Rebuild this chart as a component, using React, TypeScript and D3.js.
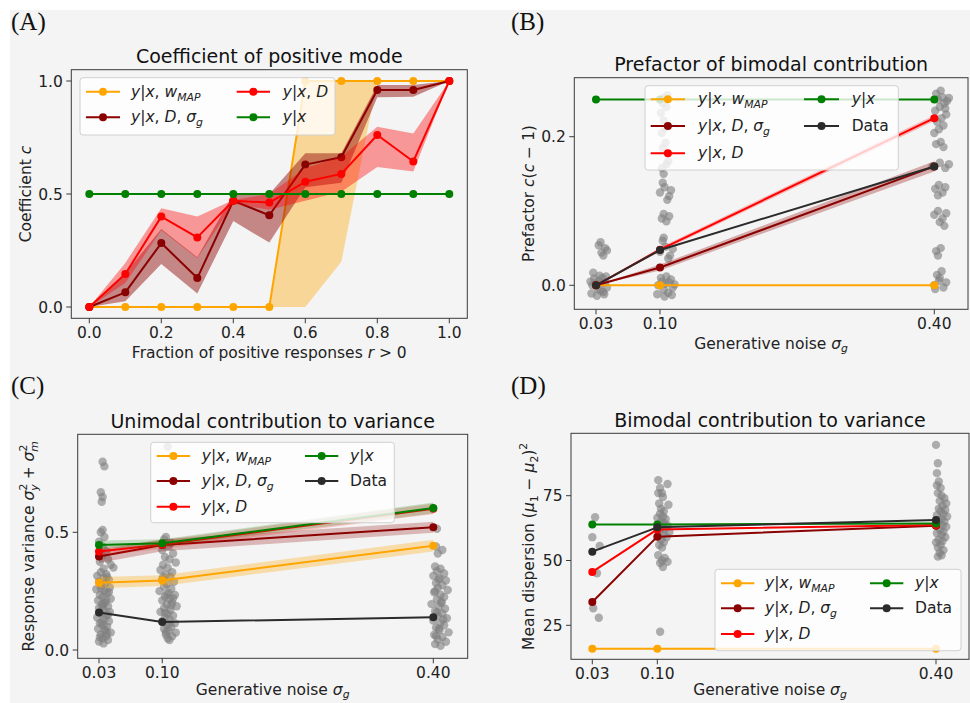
import React from "react";
import * as d3 from "d3";

// ---------------- Data ----------------
// Panel A: coefficient of positive mode vs fraction of positive responses
const fractionX = [0, 0.1, 0.2, 0.3, 0.4, 0.5, 0.6, 0.7, 0.8, 0.9, 1.0];
const aMap = [0, 0, 0, 0, 0, 0, 1, 1, 1, 1, 1];
const aMapLo = [0, 0, 0, 0, 0, 0, 0, 0.2, 1, 1, 1];
const aMapHi = [0, 0, 0, 0, 0, 0, 1, 1, 1, 1, 1];
const aDs = [0, 0.065, 0.283, 0.128, 0.47, 0.406, 0.63, 0.663, 0.96, 0.96, 1];
const aDsLo = [0, 0.025, 0.19, 0.06, 0.38, 0.285, 0.53, 0.55, 0.928, 0.93, 1];
const aDsHi = [0, 0.15, 0.345, 0.22, 0.5, 0.5, 0.68, 0.68, 0.982, 0.982, 1];
const aD = [0, 0.146, 0.4, 0.308, 0.47, 0.462, 0.554, 0.589, 0.761, 0.644, 1];
const aDLo = [0, 0.106, 0.34, 0.216, 0.457, 0.43, 0.47, 0.51, 0.62, 0.6, 1];
const aDHi = [0, 0.195, 0.437, 0.4, 0.474, 0.5, 0.614, 0.665, 0.798, 0.768, 1];
const aYx = [0.5, 0.5, 0.5, 0.5, 0.5, 0.5, 0.5, 0.5, 0.5, 0.5, 0.5];
const aXTicks = [0, 0.2, 0.4, 0.6, 0.8, 1.0];
const aXTickLabels = ["0.0", "0.2", "0.4", "0.6", "0.8", "1.0"];
const aYTicks = [0, 0.5, 1.0];
const aYTickLabels = ["0.0", "0.5", "1.0"];

// Shared x for B, C, D
const sigmas = [0.03, 0.1, 0.4];
const sigmaTickLabels = ["0.03", "0.10", "0.40"];

// Panel B: prefactor c(c-1)
const bMap = [0, 0, 0];
const bDs = [0, 0.024, 0.16];
const bDsLo = [0, 0.02, 0.153];
const bDsHi = [0, 0.028, 0.167];
const bD = [0, 0.048, 0.225];
const bDLo = [0, 0.045, 0.221];
const bDHi = [0, 0.051, 0.229];
const bYx = [0.25, 0.25, 0.25];
const bData = [0, 0.0475, 0.16];
const bYTicks = [0, 0.2];
const bYTickLabels = ["0.0", "0.2"];
// jittered observations: [x offset, value]
const bPts003: [number, number][] = [
  [-0.004, 0.0], [0.002, -0.005], [0.006, 0.003], [-0.002, 0.009], [0.008, -0.009], [0.004, 0.013],
  [-0.005, -0.011], [0.01, 0.004], [0.001, -0.014], [0.007, 0.01], [-0.003, 0.017], [0.012, -0.003],
  [0.003, 0.006], [-0.006, 0.005], [0.009, -0.012], [0.005, -0.007], [0.0, 0.002], [0.011, 0.012],
  [0.006, 0.044], [0.01, 0.05], [0.003, 0.054], [0.008, 0.04], [0.012, 0.047], [0.005, 0.058],
];
const bPts010: [number, number][] = [
  [-0.002, 0.0], [0.004, -0.006], [0.01, 0.004], [0.001, 0.01], [0.014, -0.003], [0.007, 0.012],
  [-0.003, -0.012], [0.012, 0.008], [0.005, -0.015], [0.016, 0.001], [0.002, 0.005], [0.009, -0.01],
  [0.006, 0.002], [0.013, -0.013],
  [0.0, 0.045], [0.006, 0.052], [0.011, 0.04], [0.003, 0.06], [0.009, 0.036], [0.014, 0.049], [0.004, 0.064],
  [0.002, 0.09], [0.007, 0.086], [0.01, 0.093], [0.004, 0.096],
  [0.0, 0.125], [0.005, 0.132], [0.01, 0.12], [0.003, 0.138], [0.008, 0.115], [0.012, 0.128],
  [0.002, 0.158], [0.007, 0.163], [0.004, 0.15], [0.009, 0.167],
  [0.003, 0.185], [0.006, 0.192],
  [0.002, 0.205], [0.006, 0.212], [0.004, 0.222], [0.001, 0.232], [0.007, 0.24], [0.003, 0.245],
  [0.004, 0.252], [0.008, 0.256],
];
const bPts040: [number, number][] = [
  [0.0, 0.0], [0.005, 0.006], [0.01, -0.003], [0.003, 0.014], [0.008, 0.019], [0.013, 0.004], [0.001, -0.005], [0.006, 0.01],
  [0.002, 0.046], [0.007, 0.05], [0.004, 0.04],
  [0.0, 0.095], [0.004, 0.1], [0.009, 0.09], [0.013, 0.097], [0.006, 0.085], [0.011, 0.08],
  [0.001, 0.13], [0.005, 0.135], [0.009, 0.125], [0.004, 0.121], [0.012, 0.132],
  [-0.002, 0.16], [0.006, 0.165], [0.012, 0.158], [0.016, 0.163],
  [0.002, 0.19], [0.007, 0.193], [0.01, 0.186],
  [0.0, 0.205], [0.005, 0.21], [0.01, 0.215], [0.003, 0.22], [0.008, 0.225], [0.013, 0.23], [0.001, 0.235],
  [0.006, 0.24], [0.011, 0.245], [0.004, 0.25], [0.009, 0.253], [0.014, 0.248], [0.002, 0.258], [0.007, 0.262],
  [0.012, 0.238], [0.016, 0.252],
];

// Panel C: unimodal contribution to variance
const cMap = [0.286, 0.295, 0.443];
const cMapLo = [0.262, 0.272, 0.418];
const cMapHi = [0.31, 0.318, 0.468];
const cDs = [0.397, 0.446, 0.521];
const cDsLo = [0.37, 0.42, 0.498];
const cDsHi = [0.425, 0.47, 0.545];
const cD = [0.418, 0.448, 0.6];
const cDLo = [0.4, 0.43, 0.578];
const cDHi = [0.435, 0.466, 0.622];
const cYx = [0.446, 0.453, 0.603];
const cYxLo = [0.43, 0.44, 0.58];
const cYxHi = [0.465, 0.47, 0.627];
const cData = [0.159, 0.119, 0.139];
const cYTicks = [0, 0.5];
const cYTickLabels = ["0.0", "0.5"];
const cPts003: [number, number][] = [
  [0.004, 0.8], [0.006, 0.78], [0.002, 0.67], [0.004, 0.65], [0.003, 0.63], [0.004, 0.51], [0.002, 0.5],
  [0.006, 0.48], [0.0, 0.46], [0.004, 0.44], [0.008, 0.42], [0.003, 0.4], [0.01, 0.385], [0.001, 0.375],
  [0.013, 0.362], [0.016, 0.35], [0.005, 0.345],
  [0.002, 0.33], [0.008, 0.322], [-0.002, 0.315], [0.005, 0.305], [0.011, 0.298], [0.0, 0.29], [0.007, 0.282],
  [0.003, 0.274], [0.012, 0.266], [-0.003, 0.258], [0.006, 0.25], [0.009, 0.242], [0.001, 0.234], [0.004, 0.226],
  [0.013, 0.218], [-0.001, 0.21], [0.007, 0.202], [0.003, 0.194], [0.01, 0.186], [0.0, 0.178], [0.005, 0.17],
  [0.012, 0.162], [0.002, 0.154], [0.008, 0.146], [-0.002, 0.138], [0.006, 0.13], [0.011, 0.122], [0.001, 0.114],
  [0.004, 0.106], [0.009, 0.098], [-0.001, 0.09], [0.006, 0.082], [0.013, 0.074], [0.002, 0.066], [0.008, 0.058],
  [0.004, 0.05], [0.01, 0.042], [0.0, 0.036], [0.005, 0.028],
  [0.009, 0.31], [0.002, 0.262], [0.008, 0.214], [0.004, 0.182], [0.01, 0.15], [0.003, 0.118], [0.007, 0.086],
  [0.001, 0.054], [0.009, 0.07], [0.005, 0.198], [0.011, 0.246],
];
const cPts010: [number, number][] = [
  [0.006, 0.864], [0.004, 0.48], [0.002, 0.47], [0.01, 0.455], [0.007, 0.44], [0.0, 0.425], [0.012, 0.41],
  [0.003, 0.395], [0.008, 0.385], [0.015, 0.372], [0.001, 0.362], [0.006, 0.35], [-0.002, 0.34], [0.011, 0.33],
  [0.004, 0.32], [0.009, 0.31], [0.0, 0.3], [0.013, 0.29], [0.005, 0.28], [0.002, 0.27], [0.01, 0.26],
  [-0.003, 0.25], [0.007, 0.242], [0.014, 0.234], [0.003, 0.226], [0.008, 0.218], [0.0, 0.21], [0.011, 0.202],
  [0.005, 0.194], [0.016, 0.186], [0.002, 0.178], [0.009, 0.17], [-0.002, 0.162], [0.006, 0.154], [0.012, 0.146],
  [0.003, 0.138], [0.008, 0.13], [0.0, 0.122], [0.014, 0.114], [0.005, 0.106], [0.01, 0.098], [0.002, 0.09],
  [0.007, 0.082], [0.015, 0.074], [0.004, 0.066], [0.011, 0.058], [0.006, 0.05], [0.008, 0.042],
  [0.005, 0.236], [0.01, 0.19], [0.003, 0.158], [0.008, 0.112], [0.004, 0.076], [0.012, 0.22], [0.001, 0.31],
];
const cPts040: [number, number][] = [
  [0.004, 0.515], [0.003, 0.44], [0.01, 0.425], [0.005, 0.41], [0.002, 0.355], [0.008, 0.345], [0.004, 0.335],
  [0.012, 0.325], [0.0, 0.315], [0.007, 0.305], [0.014, 0.295], [0.003, 0.285], [0.01, 0.275], [0.005, 0.265],
  [0.016, 0.255], [0.001, 0.245], [0.008, 0.235], [0.012, 0.225], [0.004, 0.215], [0.009, 0.205], [-0.002, 0.195],
  [0.006, 0.185], [0.013, 0.175], [0.002, 0.165], [0.01, 0.155], [0.005, 0.145], [0.015, 0.135], [0.0, 0.125],
  [0.008, 0.115], [0.012, 0.105], [0.003, 0.095], [0.007, 0.085], [0.017, 0.075], [0.001, 0.065], [0.01, 0.055],
  [0.005, 0.045], [0.014, 0.035], [0.002, 0.025], [0.008, 0.018],
  [0.006, 0.3], [0.002, 0.25], [0.009, 0.2], [0.004, 0.16], [0.011, 0.13], [0.006, 0.09], [0.003, 0.06],
];

// Panel D: bimodal contribution to variance
const dMap = [16.0, 16.0, 16.0];
const dDs = [34.0, 59.2, 63.4];
const dD = [45.6, 62.0, 63.7];
const dYx = [63.9, 63.9, 64.3];
const dData = [53.4, 62.8, 65.6];
const dYTicks = [25, 50, 75];
const dYTickLabels = ["25", "50", "75"];
const dPts003: [number, number][] = [
  [0.003, 66.7], [0.0, 59.0], [0.008, 55.6], [0.005, 45.1], [0.001, 31.6], [0.007, 27.9],
];
const dPts010: [number, number][] = [
  [0.001, 81], [0.011, 79.5], [0.003, 78], [0.001, 76], [0.005, 76], [0.006, 74.5], [0.002, 72], [0.012, 71.5],
  [0.004, 70], [0.007, 69], [0.003, 68], [0.006, 67], [0.0, 66.5], [0.009, 66], [0.004, 65], [0.007, 64.5],
  [0.002, 64], [0.011, 63.5], [0.005, 63], [0.008, 62], [0.003, 61.5], [0.013, 61], [0.006, 60], [0.001, 59.5],
  [0.01, 59], [0.004, 58], [0.007, 57], [0.002, 56], [0.005, 55], [0.001, 52], [0.008, 51], [0.005, 50],
  [0.011, 49.5], [0.003, 49], [0.006, 47.5], [0.003, 22.5],
];
const dPts040: [number, number][] = [
  [0.0, 94.6], [0.002, 87.5], [0.001, 83.7], [0.003, 80.5], [0.001, 79], [0.005, 78], [0.002, 76], [0.006, 75],
  [0.009, 74], [0.004, 73], [0.011, 72], [0.007, 71], [0.003, 70], [0.01, 69.5], [0.005, 69], [0.008, 68],
  [0.001, 67.5], [0.012, 67], [0.006, 66], [0.003, 65.5], [0.009, 65], [0.002, 64], [0.007, 63.5], [0.011, 63],
  [0.004, 62], [0.008, 61], [0.001, 60.5], [0.006, 60], [0.01, 59], [0.003, 58], [0.007, 57.5], [0.0, 57],
  [0.005, 56], [0.002, 55], [0.008, 54], [0.004, 53], [0.006, 52], [0.002, 51.5],
];

// ---------------- Styling ----------------
const C_MAP = "#FFA500";
const C_DS = "#8B0000";
const C_D = "#FF0000";
const C_YX = "#008000";
const C_DATA = "#2b2b2b";
const FONT = "DejaVu Sans, Verdana, sans-serif";
const BG = "#f4f4f4";

const I = ({ children }: { children: React.ReactNode }) => <tspan fontStyle="italic">{children}</tspan>;

const labMap = (
  <>
    <I>y</I>|<I>x</I>{", "}<I>w</I>
    <tspan fontSize="0.7em" fontStyle="italic" dy={4}>MAP</tspan>
  </>
);
const labDs = (
  <>
    <I>y</I>|<I>x</I>{", "}<I>D</I>{", "}<I>σ</I>
    <tspan fontSize="0.7em" fontStyle="italic" dy={4}>g</tspan>
  </>
);
const labD = (
  <>
    <I>y</I>|<I>x</I>{", "}<I>D</I>
  </>
);
const labYx = (
  <>
    <I>y</I>|<I>x</I>
  </>
);
const labData = <>Data</>;

const sigmaLabel = (
  <>
    {"Generative noise "}<I>σ</I>
    <tspan fontSize="0.7em" fontStyle="italic" dy={3}>g</tspan>
  </>
);

type Series = {
  xs: number[];
  ys: number[];
  color: string;
  lo?: number[];
  hi?: number[];
  bandOpacity?: number;
};
type LegendItem = { col: number; row: number; color: string; label: React.ReactNode };
type PanelSpec = {
  id: string;
  letter: string;
  letterX: number;
  letterY: number;
  box: [number, number, number, number];
  xDom: [number, number];
  xRng: [number, number];
  yDom: [number, number];
  yRng: [number, number];
  xTicks: number[];
  xTickLabels: string[];
  yTicks: number[];
  yTickLabels: string[];
  title: string;
  xLabel: React.ReactNode;
  xLabelOffset: number;
  yLabel: React.ReactNode;
  yLabelX: number;
  series: Series[];
  scatter?: { x: number; pts: [number, number][] }[];
  legend: {
    box: [number, number, number, number];
    rows: number[];
    cols: [number, number, number][];
    items: LegendItem[];
  };
};

const panels: PanelSpec[] = [
  {
    id: "A",
    letter: "(A)",
    letterX: 11,
    letterY: 30,
    box: [71.3, 69.7, 467.3, 318.3],
    xDom: [0, 1],
    xRng: [89.3, 449.3],
    yDom: [0, 1],
    yRng: [307, 81],
    xTicks: aXTicks,
    xTickLabels: aXTickLabels,
    yTicks: aYTicks,
    yTickLabels: aYTickLabels,
    title: "Coefficient of positive mode",
    xLabel: (
      <>
        {"Fraction of positive responses "}<I>r</I>{" > 0"}
      </>
    ),
    xLabelOffset: 40,
    yLabel: (
      <>
        {"Coefficient "}<I>c</I>
      </>
    ),
    yLabelX: 30.5,
    series: [
      { xs: fractionX, ys: aMap, color: C_MAP, lo: aMapLo, hi: aMapHi, bandOpacity: 0.38 },
      { xs: fractionX, ys: aDs, color: C_DS, lo: aDsLo, hi: aDsHi, bandOpacity: 0.45 },
      { xs: fractionX, ys: aD, color: C_D, lo: aDLo, hi: aDHi, bandOpacity: 0.38 },
      { xs: fractionX, ys: aYx, color: C_YX },
    ],
    legend: {
      box: [80, 77.7, 335, 135],
      rows: [91.7, 117.3],
      cols: [
        [86, 120, 131],
        [236.7, 270, 282.7],
      ],
      items: [
        { col: 0, row: 0, color: C_MAP, label: labMap },
        { col: 0, row: 1, color: C_DS, label: labDs },
        { col: 1, row: 0, color: C_D, label: labD },
        { col: 1, row: 1, color: C_YX, label: labYx },
      ],
    },
  },
  {
    id: "B",
    letter: "(B)",
    letterX: 511,
    letterY: 30,
    box: [574.3, 77.7, 968, 309.3],
    xDom: [0.03, 0.4],
    xRng: [596, 934.3],
    yDom: [0, 0.2],
    yRng: [285.3, 136.7],
    xTicks: sigmas,
    xTickLabels: sigmaTickLabels,
    yTicks: bYTicks,
    yTickLabels: bYTickLabels,
    title: "Prefactor of bimodal contribution",
    xLabel: sigmaLabel,
    xLabelOffset: 40,
    yLabel: (
      <>
        {"Prefactor "}<I>c</I>(<I>c</I>{" − 1)"}
      </>
    ),
    yLabelX: 533.5,
    scatter: [
      { x: 0.03, pts: bPts003 },
      { x: 0.1, pts: bPts010 },
      { x: 0.4, pts: bPts040 },
    ],
    series: [
      { xs: sigmas, ys: bMap, color: C_MAP },
      { xs: sigmas, ys: bDs, color: C_DS, lo: bDsLo, hi: bDsHi, bandOpacity: 0.3 },
      { xs: sigmas, ys: bD, color: C_D, lo: bDLo, hi: bDHi, bandOpacity: 0.25 },
      { xs: sigmas, ys: bYx, color: C_YX },
      { xs: sigmas, ys: bData, color: C_DATA },
    ],
    legend: {
      box: [645, 85.7, 898.3, 170],
      rows: [99.3, 126, 153.3],
      cols: [
        [650.7, 685, 698],
        [804, 839, 851.7],
      ],
      items: [
        { col: 0, row: 0, color: C_MAP, label: labMap },
        { col: 0, row: 1, color: C_DS, label: labDs },
        { col: 0, row: 2, color: C_D, label: labD },
        { col: 1, row: 0, color: C_YX, label: labYx },
        { col: 1, row: 1, color: C_DATA, label: labData },
      ],
    },
  },
  {
    id: "C",
    letter: "(C)",
    letterX: 11,
    letterY: 394,
    box: [77.7, 434.3, 467.7, 658.3],
    xDom: [0.03, 0.4],
    xRng: [99, 433.3],
    yDom: [0, 0.5],
    yRng: [650, 532.3],
    xTicks: sigmas,
    xTickLabels: sigmaTickLabels,
    yTicks: cYTicks,
    yTickLabels: cYTickLabels,
    title: "Unimodal contribution to variance",
    xLabel: sigmaLabel,
    xLabelOffset: 36.5,
    yLabel: (
      <>
        {"Response variance "}<I>σ</I>
        <tspan fontSize="0.7em" dy={-7}>2</tspan>
        <tspan fontSize="0.7em" fontStyle="italic" dx={-7} dy={11}>y</tspan>
        <tspan dy={-4}>{" + "}</tspan>
        <I>σ</I>
        <tspan fontSize="0.7em" dy={-7}>2</tspan>
        <tspan fontSize="0.7em" fontStyle="italic" dx={-7} dy={11}>m</tspan>
      </>
    ),
    yLabelX: 34,
    scatter: [
      { x: 0.03, pts: cPts003 },
      { x: 0.1, pts: cPts010 },
      { x: 0.4, pts: cPts040 },
    ],
    series: [
      { xs: sigmas, ys: cMap, color: C_MAP, lo: cMapLo, hi: cMapHi, bandOpacity: 0.3 },
      { xs: sigmas, ys: cDs, color: C_DS, lo: cDsLo, hi: cDsHi, bandOpacity: 0.25 },
      { xs: sigmas, ys: cD, color: C_D, lo: cDLo, hi: cDHi, bandOpacity: 0.2 },
      { xs: sigmas, ys: cYx, color: C_YX, lo: cYxLo, hi: cYxHi, bandOpacity: 0.2 },
      { xs: sigmas, ys: cData, color: C_DATA },
    ],
    legend: {
      box: [150.7, 442.3, 394.3, 522.7],
      rows: [456, 481, 506.7],
      cols: [
        [156.7, 190, 201.7],
        [305, 338.3, 350],
      ],
      items: [
        { col: 0, row: 0, color: C_MAP, label: labMap },
        { col: 0, row: 1, color: C_DS, label: labDs },
        { col: 0, row: 2, color: C_D, label: labD },
        { col: 1, row: 0, color: C_YX, label: labYx },
        { col: 1, row: 1, color: C_DATA, label: labData },
      ],
    },
  },
  {
    id: "D",
    letter: "(D)",
    letterX: 511,
    letterY: 394,
    box: [571, 433.3, 969, 659.3],
    xDom: [0.03, 0.4],
    xRng: [592.3, 936],
    yDom: [25, 75],
    yRng: [625.3, 495.7],
    xTicks: sigmas,
    xTickLabels: sigmaTickLabels,
    yTicks: dYTicks,
    yTickLabels: dYTickLabels,
    title: "Bimodal contribution to variance",
    xLabel: sigmaLabel,
    xLabelOffset: 35.5,
    yLabel: (
      <>
        {"Mean dispersion ("}<I>μ</I>
        <tspan fontSize="0.7em" dy={4}>1</tspan>
        <tspan dy={-4}>{" − "}</tspan>
        <I>μ</I>
        <tspan fontSize="0.7em" dy={4}>2</tspan>
        <tspan dy={-4}>)</tspan>
        <tspan fontSize="0.7em" dy={-7}>2</tspan>
      </>
    ),
    yLabelX: 534,
    scatter: [
      { x: 0.03, pts: dPts003 },
      { x: 0.1, pts: dPts010 },
      { x: 0.4, pts: dPts040 },
    ],
    series: [
      { xs: sigmas, ys: dMap, color: C_MAP },
      { xs: sigmas, ys: dDs, color: C_DS },
      { xs: sigmas, ys: dD, color: C_D },
      { xs: sigmas, ys: dYx, color: C_YX },
      { xs: sigmas, ys: dData, color: C_DATA },
    ],
    legend: {
      box: [715, 569.3, 961, 650.7],
      rows: [583.3, 608.3, 634],
      cols: [
        [721, 754.3, 765],
        [870, 903.3, 915],
      ],
      items: [
        { col: 0, row: 0, color: C_MAP, label: labMap },
        { col: 0, row: 1, color: C_DS, label: labDs },
        { col: 0, row: 2, color: C_D, label: labD },
        { col: 1, row: 0, color: C_YX, label: labYx },
        { col: 1, row: 1, color: C_DATA, label: labData },
      ],
    },
  },
];

function Panel({ p }: { p: PanelSpec }) {
  const x = d3.scaleLinear().domain(p.xDom).range(p.xRng);
  const y = d3.scaleLinear().domain(p.yDom).range(p.yRng);
  const [l, t, r, b] = p.box;
  const clipId = `clip-${p.id}`;
  const tickFs = 15.5;
  return (
    <g fontFamily={FONT}>
      <defs>
        <clipPath id={clipId}>
          <rect x={l} y={t} width={r - l} height={b - t} />
        </clipPath>
      </defs>
      <text x={p.letterX} y={p.letterY} fontFamily="Liberation Serif, Times New Roman, serif" fontSize={25} fill="#111">
        {p.letter}
      </text>
      <text x={(l + r) / 2} y={t - 6.5} textAnchor="middle" fontSize={19} fill="#111">
        {p.title}
      </text>
      <g clipPath={`url(#${clipId})`}>
        {p.scatter &&
          p.scatter.map((col, ci) =>
            col.pts.map((pt, i) => (
              <circle key={`s${ci}-${i}`} cx={x(col.x + pt[0])} cy={y(pt[1])} r={4.2} fill="#808080" fillOpacity={0.62} />
            ))
          )}
        {p.series.map((s, si) => {
          const idx = d3.range(s.xs.length);
          const line = d3
            .line<number>()
            .x((i) => x(s.xs[i]))
            .y((i) => y(s.ys[i]));
          let band: string | null = null;
          if (s.lo && s.hi) {
            const lo = s.lo;
            const hi = s.hi;
            band = d3
              .area<number>()
              .x((i) => x(s.xs[i]))
              .y0((i) => y(lo[i]))
              .y1((i) => y(hi[i]))(idx);
          }
          return (
            <g key={`ser${si}`}>
              {band && <path d={band} fill={s.color} fillOpacity={s.bandOpacity ?? 0.3} stroke="none" />}
              <path d={line(idx) || ""} fill="none" stroke={s.color} strokeWidth={2} strokeLinejoin="round" />
              {idx.map((i) => (
                <circle key={i} cx={x(s.xs[i])} cy={y(s.ys[i])} r={4} fill={s.color} />
              ))}
            </g>
          );
        })}
      </g>
      <rect x={l} y={t} width={r - l} height={b - t} fill="none" stroke="#3a3a3a" strokeWidth={1} />
      {p.xTicks.map((v, i) => (
        <g key={`xt${i}`}>
          <line x1={x(v)} x2={x(v)} y1={b} y2={b + 5} stroke="#3a3a3a" strokeWidth={1} />
          <text x={x(v)} y={b + 20} textAnchor="middle" fontSize={tickFs} fill="#222">
            {p.xTickLabels[i]}
          </text>
        </g>
      ))}
      {p.yTicks.map((v, i) => (
        <g key={`yt${i}`}>
          <line x1={l - 5} x2={l} y1={y(v)} y2={y(v)} stroke="#3a3a3a" strokeWidth={1} />
          <text x={l - 8.5} y={y(v) + 5.5} textAnchor="end" fontSize={tickFs} fill="#222">
            {p.yTickLabels[i]}
          </text>
        </g>
      ))}
      <text x={(l + r) / 2} y={b + p.xLabelOffset} textAnchor="middle" fontSize={tickFs} fill="#222">
        {p.xLabel}
      </text>
      <text
        transform={`translate(${p.yLabelX},${(t + b) / 2}) rotate(-90)`}
        textAnchor="middle"
        fontSize={tickFs}
        fill="#222"
      >
        {p.yLabel}
      </text>
      <g>
        <rect
          x={p.legend.box[0]}
          y={p.legend.box[1]}
          width={p.legend.box[2] - p.legend.box[0]}
          height={p.legend.box[3] - p.legend.box[1]}
          rx={3}
          fill="#ffffff"
          fillOpacity={0.8}
          stroke="#d0d0d0"
          strokeWidth={1}
        />
        {p.legend.items.map((it, i) => {
          const [x1, x2, tx] = p.legend.cols[it.col];
          const ry = p.legend.rows[it.row];
          return (
            <g key={`lg${i}`}>
              <line x1={x1} x2={x2} y1={ry} y2={ry} stroke={it.color} strokeWidth={2} />
              <circle cx={(x1 + x2) / 2} cy={ry} r={4} fill={it.color} />
              <text x={tx} y={ry + 5} fontSize={tickFs} fill="#222">
                {it.label}
              </text>
            </g>
          );
        })}
      </g>
    </g>
  );
}

export default function App() {
  return (
    <svg
      width={970}
      height={703}
      viewBox="0 0 970 703"
      style={{ position: "absolute", left: 0, top: 0, display: "block" }}
    >
      <rect x={0} y={0} width={970} height={703} fill="#ffffff" />
      <rect x={10} y={10} width={960} height={693} fill={BG} />
      {panels.map((p) => (
        <Panel key={p.id} p={p} />
      ))}
    </svg>
  );
}
